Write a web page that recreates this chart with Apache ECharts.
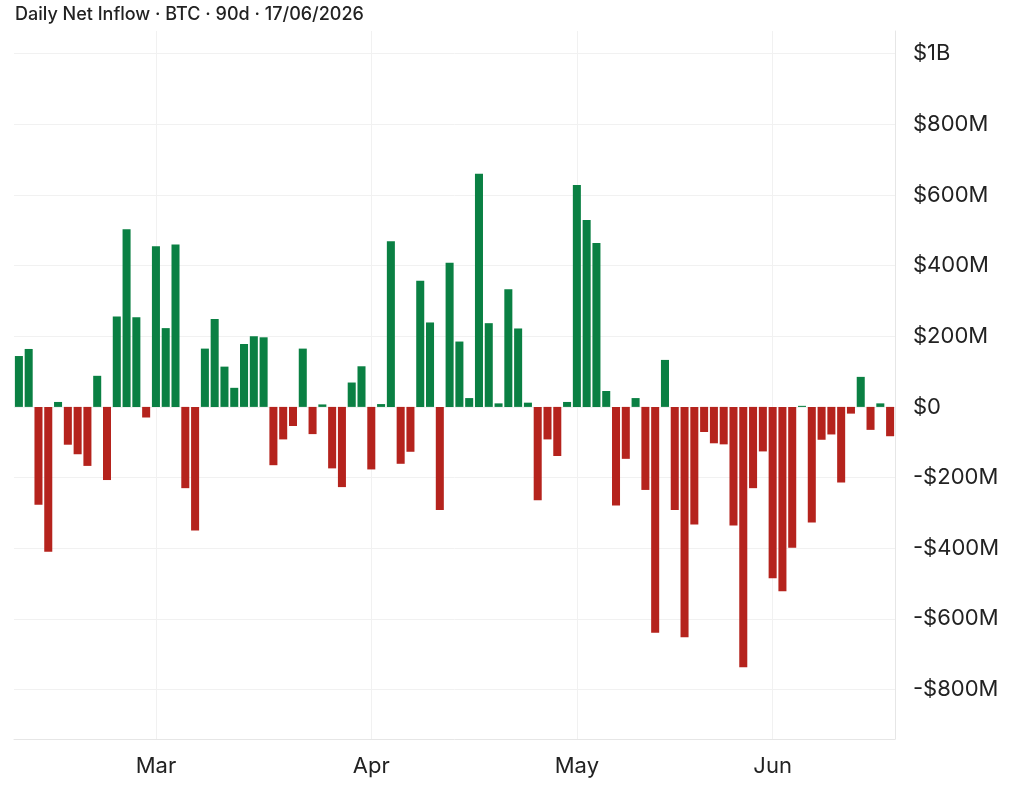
<!DOCTYPE html>
<html>
<head>
<meta charset="utf-8">
<script src="https://cdn.jsdelivr.net/npm/echarts@6/dist/echarts.min.js"></script>
<style>
  html, body { margin: 0; padding: 0; background: #fff; }
  #main { width: 1024px; height: 794px; }
</style>
</head>
<body>
<div id="main"></div>
<script>
// trading days, 90 sessions ending 17/06/2026
var dates = [
  '2026-02-09', '2026-02-10', '2026-02-11', '2026-02-12', '2026-02-13', '2026-02-17', '2026-02-18',
  '2026-02-19', '2026-02-20', '2026-02-23', '2026-02-24', '2026-02-25', '2026-02-26', '2026-02-27',
  '2026-03-02', '2026-03-03', '2026-03-04', '2026-03-05', '2026-03-06', '2026-03-09', '2026-03-10',
  '2026-03-11', '2026-03-12', '2026-03-13', '2026-03-16', '2026-03-17', '2026-03-18', '2026-03-19',
  '2026-03-20', '2026-03-23', '2026-03-24', '2026-03-25', '2026-03-26', '2026-03-27', '2026-03-30',
  '2026-03-31', '2026-04-01', '2026-04-02', '2026-04-06', '2026-04-07', '2026-04-08', '2026-04-09',
  '2026-04-10', '2026-04-13', '2026-04-14', '2026-04-15', '2026-04-16', '2026-04-17', '2026-04-20',
  '2026-04-21', '2026-04-22', '2026-04-23', '2026-04-24', '2026-04-27', '2026-04-28', '2026-04-29',
  '2026-04-30', '2026-05-01', '2026-05-04', '2026-05-05', '2026-05-06', '2026-05-07', '2026-05-08',
  '2026-05-11', '2026-05-12', '2026-05-13', '2026-05-14', '2026-05-15', '2026-05-18', '2026-05-19',
  '2026-05-20', '2026-05-21', '2026-05-22', '2026-05-26', '2026-05-27', '2026-05-28', '2026-05-29',
  '2026-06-01', '2026-06-02', '2026-06-03', '2026-06-04', '2026-06-05', '2026-06-08', '2026-06-09',
  '2026-06-10', '2026-06-11', '2026-06-12', '2026-06-15', '2026-06-16', '2026-06-17'
];

// net inflow, $M
var netInflow = [
  144, 164, -277, -410, 14, -107, -134, -167, 88, -207,
  256, 503, 254, -30, 455, 223, 460, -230, -350, 165,
  249, 114, 54, 178, 200, 197, -165, -92, -54, 165,
  -77, 7, -174, -227, 69, 115, -177, 8, 469, -161,
  -127, 357, 239, -292, 408, 185, 25, 660, 237, 10,
  333, 222, 12, -264, -92, -139, 14, 628, 529, 464,
  45, -279, -147, 25, -235, -639, 133, -292, -652, -333,
  -71, -103, -106, -336, -737, -230, -126, -485, -522, -399,
  3, -327, -93, -78, -214, -19, 85, -65, 10, -83
];

var yTicks = [-800, -600, -400, -200, 0, 200, 400, 600, 800, 1000];
var monthNames = ['Jan', 'Feb', 'Mar', 'Apr', 'May', 'Jun', 'Jul', 'Aug', 'Sep', 'Oct', 'Nov', 'Dec'];

var GREEN = '#0a8043';
var RED = '#b5231d';

function isMonthStart(idx) {
  if (idx === 0) return false;
  return dates[idx].slice(5, 7) !== dates[idx - 1].slice(5, 7);
}

// index of first session of each month (grid lines go through those bars)
var monthStartIdx = [];
dates.forEach(function (d, i) { if (isMonthStart(i)) monthStartIdx.push(i); });

function fmtMoney(v) {
  if (v === 0) return '$0';
  var a = Math.abs(v);
  var s = a >= 1000 ? '$' + (a / 1000) + 'B' : '$' + a + 'M';
  return (v < 0 ? '-' : '') + s;
}

var myChart = echarts.init(document.getElementById('main'));

myChart.setOption({
  animation: false,
  textStyle: { fontFamily: 'Inter' },
  title: {
    text: 'Daily Net Inflow · BTC · 90d · 17/06/2026',
    left: 15,
    top: 6,
    padding: 0,
    textStyle: { fontSize: 18, fontWeight: 500, color: '#222', fontFamily: 'Inter' }
  },
  grid: { left: 14, right: 129, top: 31, bottom: 55, containLabel: false },
  xAxis: [{
    type: 'category',
    data: dates,
    axisLine: { onZero: false, lineStyle: { color: '#e6e6e6', width: 1 } },
    axisTick: { show: false },
    axisLabel: {
      interval: function (idx) { return isMonthStart(idx); },
      formatter: function (v) { return monthNames[parseInt(v.slice(5, 7), 10) - 1]; },
      fontSize: 22,
      color: '#222',
      margin: 16
    },
    splitLine: { show: false }
  }, {
    // helper axis: vertical grid lines through the centre of month-start bars
    type: 'value',
    position: 'bottom',
    min: -0.5,
    max: dates.length - 0.5,
    axisLine: { show: false, onZero: false },
    axisTick: { show: false, customValues: monthStartIdx },
    axisLabel: { show: false, customValues: monthStartIdx },
    splitLine: { show: true, lineStyle: { color: '#f1f1f1', width: 1 } }
  }],
  yAxis: {
    type: 'value',
    position: 'right',
    min: -940,
    max: 1064,
    axisLine: { show: true, onZero: false, lineStyle: { color: '#e6e6e6', width: 1 } },
    axisTick: { show: false, customValues: yTicks },
    axisLabel: {
      customValues: yTicks,
      formatter: fmtMoney,
      fontSize: 22,
      color: '#222',
      margin: 18
    },
    splitLine: { show: true, lineStyle: { color: '#f1f1f1', width: 1 } }
  },
  series: [{
    name: 'Net inflow',
    type: 'bar',
    xAxisIndex: 0,
    barWidth: '82%',
    data: netInflow.map(function (v) {
      return {
        value: v,
        itemStyle: { color: v >= 0 ? GREEN : RED }
      };
    })
  }]
});
</script>
</body>
</html>
